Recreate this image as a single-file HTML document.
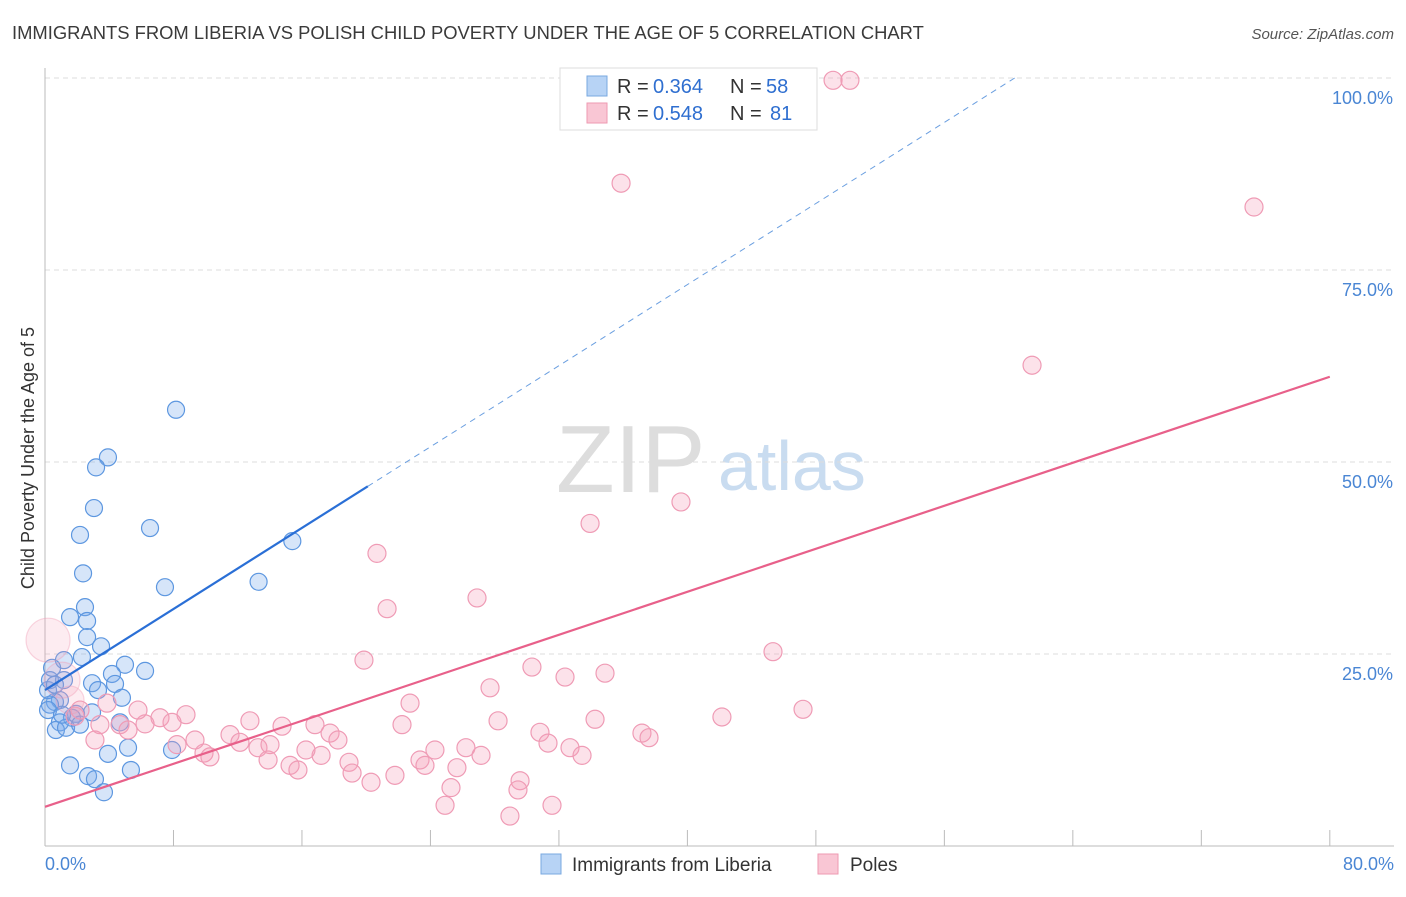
<!DOCTYPE html>
<html><head><meta charset="utf-8"><style>
body{margin:0;background:#fff;font-family:"Liberation Sans",sans-serif}
svg text{font-family:"Liberation Sans",sans-serif}
</style></head><body>
<svg id="chart" width="1406" height="892">
<text x="12" y="39" font-size="18.4" fill="#3a3a3a">IMMIGRANTS FROM LIBERIA VS POLISH CHILD POVERTY UNDER THE AGE OF 5 CORRELATION CHART</text>
<text x="1394" y="39" font-size="15" fill="#555" font-style="italic" text-anchor="end">Source: ZipAtlas.com</text>
<text x="34" y="458" font-size="18" fill="#333" text-anchor="middle" transform="rotate(-90 34 458)">Child Poverty Under the Age of 5</text>
<text x="556" y="492" font-size="96" fill="#ddd" font-family="Liberation Serif">ZIP</text>
<text x="718" y="490" font-size="70" fill="#c9dcf0">atlas</text>
<g id="grid"></g><g id="marks"></g>
<g>
<rect x="560" y="68" width="257" height="62" fill="#fff" stroke="#ddd"/>
<rect x="587" y="76" width="20" height="20" fill="#b7d3f5" stroke="#7aa8e0"/>
<text x="617" y="93" font-size="20" fill="#333">R =</text><text x="653" y="93" font-size="20" fill="#2f6fd0">0.364</text>
<text x="730" y="93" font-size="20" fill="#333">N =</text><text x="766" y="93" font-size="20" fill="#2f6fd0">58</text>
<rect x="587" y="103" width="20" height="20" fill="#f9c6d4" stroke="#ee9ab2"/>
<text x="617" y="120" font-size="20" fill="#333">R =</text><text x="653" y="120" font-size="20" fill="#2f6fd0">0.548</text>
<text x="730" y="120" font-size="20" fill="#333">N =</text><text x="770" y="120" font-size="20" fill="#2f6fd0">81</text>
</g>
<g>
<rect x="541" y="854" width="20" height="20" fill="#b7d3f5" stroke="#7aa8e0"/>
<text x="572" y="871" font-size="19" fill="#333">Immigrants from Liberia</text>
<rect x="818" y="854" width="20" height="20" fill="#f9c6d4" stroke="#ee9ab2"/>
<text x="850" y="871" font-size="19" fill="#333">Poles</text>
</g>
<text x="45" y="870" font-size="18" fill="#4a86d4">0.0%</text>
<text x="1394" y="870" font-size="18" fill="#4a86d4" text-anchor="end">80.0%</text>
</svg>
<script>
const yTicks=[25,50,75,100];
const yTickLabels=["25.0%","50.0%","75.0%","100.0%"];
const blueX=[8.16,3.92,3.18,3.05,6.54,2.18,2.37,7.47,13.3,15.4,2.49,1.56,2.62,2.62,3.49,2.30,1.18,4.98,6.23,4.17,2.93,4.36,3.30,4.79,0.93,0.62,0.31,0.19,0.31,1.18,1.93,1.68,0.93,0.68,1.31,2.18,2.93,4.67,5.17,3.92,7.91,1.56,2.68,3.11,5.35,3.67,0.62,0.44,0.19,1.06];
const blueY=[56.8,50.6,49.3,44.0,41.4,40.5,35.5,33.7,34.4,39.7,31.1,29.8,29.3,27.2,26.0,24.6,24.2,23.6,22.8,22.4,21.2,21.1,20.3,19.3,19.0,18.75,18.4,20.3,21.6,21.6,17.2,16.7,16.1,15.1,15.4,15.8,17.4,16.1,12.8,12.0,12.5,10.5,9.1,8.7,9.9,7.0,21.0,23.2,17.7,17.1];
const pinkX=[49.07,50.12,35.87,75.28,61.46,39.6,33.94,20.67,26.9,21.3,19.86,45.33,30.32,32.38,34.87,27.71,22.73,47.2,42.15,34.25,28.21,22.23,16.81,12.76,14.76,8.78,7.16,7.91,6.23,4.67,3.42,17.75,11.52,12.14,13.26,9.9,10.27,13.89,15.26,15.75,17.19,16.25,18.24,18.93,19.12,20.3,21.79,23.35,23.66,24.28,25.28,24.91,25.65,26.21,27.15,30.82,31.32,32.69,33.44,37.17,37.61,29.58,29.45,31.57,28.95,3.86,1.87,3.11,5.79,5.17,2.18,9.34,8.22,14.01,0.19,1.06,1.56];
const pinkY=[99.7,99.7,86.3,83.2,62.6,44.8,42.0,38.1,32.3,30.9,24.2,25.3,23.3,22.0,22.5,20.6,18.6,17.8,16.8,16.5,16.3,15.8,15.8,16.3,15.6,17.1,16.7,16.1,15.9,15.8,15.8,14.7,14.5,13.5,12.8,12.1,11.6,11.2,10.5,9.9,11.8,12.5,13.8,10.9,9.5,8.3,9.2,11.2,10.5,12.5,7.6,5.3,10.2,12.8,11.8,14.8,13.4,12.8,11.8,14.7,14.1,8.5,7.3,5.3,3.9,18.6,16.9,13.8,17.7,15.1,17.7,13.8,13.2,13.2,26.8,21.6,19.0];
const pinkR=[9,9,9,9,9,9,9,9,9,9,9,9,9,9,9,9,9,9,9,9,9,9,9,9,9,9,9,9,9,9,9,9,9,9,9,9,9,9,9,9,9,9,9,9,9,9,9,9,9,9,9,9,9,9,9,9,9,9,9,9,9,9,9,9,9,9,9,9,9,9,9,9,9,9,22,18,14];
const blueFit=[20.3,1.32];
const pinkFit=[5.1,0.70];
const sx=v=>45+v*16.06, sy=v=>846-v*7.68;
const NS='http://www.w3.org/2000/svg';
function mk(t,a,p){const e=document.createElementNS(NS,t);for(const k in a)e.setAttribute(k,a[k]);p.appendChild(e);return e;}
const grid=document.getElementById('grid'), marks=document.getElementById('marks');
yTicks.forEach((t,i)=>{
 const l=mk('line',{x1:45,x2:1394,y1:sy(t),y2:sy(t),stroke:'#ddd','stroke-dasharray':'5,4'},grid);
 
 
 const tx=mk('text',{x:1393,y:sy(t)+26,'font-size':18,fill:'#4a86d4','text-anchor':'end'},grid);
 tx.textContent=yTickLabels[i];
 
 
});
const ax=mk('line',{x1:45,x2:45,y1:68,y2:846,stroke:'#bbb'},grid);


const bx=mk('line',{x1:45,x2:1394,y1:846,y2:846,stroke:'#bbb'},grid);


for(let i=0;i<=10;i++){const x=sx(i*8);const tk=mk('line',{x1:x,x2:x,y1:830,y2:846,stroke:'#bbb'},grid);
 
 }
blueX.forEach((x,i)=>{const c=mk('circle',{cx:sx(x),cy:sy(blueY[i]),r:8.5,fill:'rgba(120,170,235,0.3)',stroke:'#5d97e0','stroke-width':1.2},marks);
 
 });
pinkX.forEach((x,i)=>{const big=pinkR[i]>9;const c=mk('circle',{cx:sx(x),cy:sy(pinkY[i]),r:pinkR[i],fill:big?'rgba(245,160,185,0.2)':'rgba(245,160,185,0.3)',stroke:big?'rgba(239,155,181,0.4)':'#ef9bb5','stroke-width':1.2},marks);
 
 });
const bEnd=(100-blueFit[0])/blueFit[1];
const bd=mk('line',{x1:sx(20.1),y1:sy(blueFit[0]+blueFit[1]*20.1),x2:sx(bEnd),y2:sy(100),stroke:'#6b9fe0','stroke-dasharray':'6,5','stroke-width':1},marks);


const bl=mk('line',{x1:sx(0),y1:sy(blueFit[0]),x2:sx(20.1),y2:sy(blueFit[0]+blueFit[1]*20.1),stroke:'#2a6fd6','stroke-width':2.2},marks);


const pl=mk('line',{x1:sx(0),y1:sy(pinkFit[0]),x2:sx(80),y2:sy(pinkFit[0]+pinkFit[1]*80),stroke:'#e8608a','stroke-width':2.2},marks);


</script>
</body></html>
